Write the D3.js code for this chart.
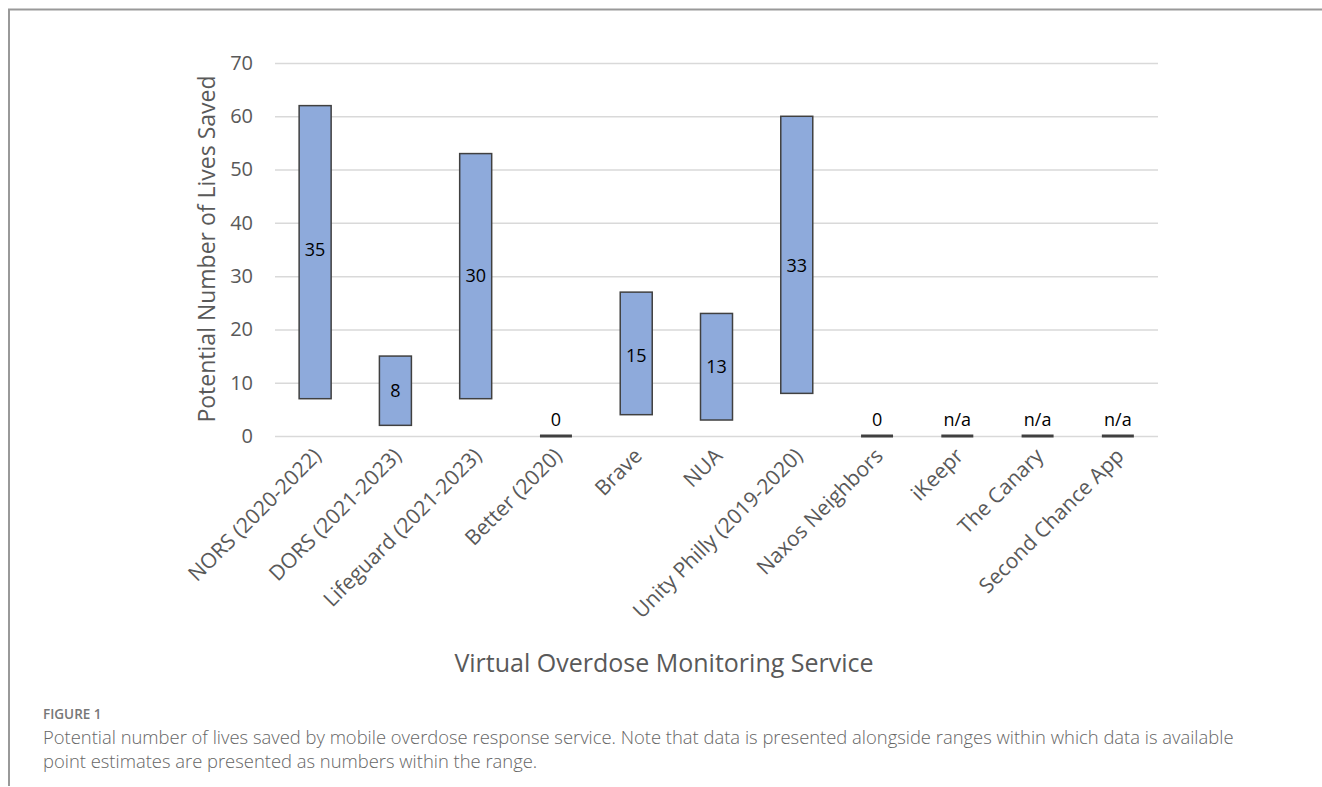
<!DOCTYPE html>
<html>
<head>
<meta charset="utf-8">
<script src="https://cdn.jsdelivr.net/npm/d3@7"></script>
<style>
  body { margin: 0; background: #fff; }
  svg { display: block; font-family: "Open Sans", sans-serif; }
</style>
</head>
<body>
<svg id="chart" width="1322" height="787"></svg>
<script>
// services on the x axis
const services = [
  'NORS (2020-2022)', 'DORS (2021-2023)', 'Lifeguard (2021-2023)', 'Better (2020)',
  'Brave', 'NUA', 'Unity Philly (2019-2020)', 'Naxos Neighbors',
  'iKeepr', 'The Canary', 'Second Chance App'
];
// range low / high and point estimate (null = n/a)
const lowValues = [7, 2, 7, 0, 4, 3, 8, 0, 0, 0, 0];
const highValues = [62, 15, 53, 0, 27, 23, 60, 0, 0, 0, 0];
const pointLabels = ['35', '8', '30', '0', '15', '13', '33', '0', 'n/a', 'n/a', 'n/a'];
const pointValues = [35, 8.5, 30, 0, 15, 13, 32, 0, null, null, null];
const yTicks = [0, 10, 20, 30, 40, 50, 60, 70];

const svg = d3.select('#chart');
const plotLeft = 275, plotRight = 1158, plotTop = 63, plotBottom = 436;

const x = d3.scaleBand().domain(services).range([plotLeft, plotRight]);
const y = d3.scaleLinear().domain([0, 70]).range([plotBottom, plotTop]);

// outer frame (top + left)
svg.append('path')
  .attr('d', 'M9,786 L9,9.5 L1322,9.5')
  .attr('fill', 'none')
  .attr('stroke', '#999')
  .attr('stroke-width', 2);

// gridlines + y labels
const yAxis = d3.axisLeft(y).tickValues(yTicks).tickSize(-(plotRight - plotLeft)).tickPadding(22);
const gy = svg.append('g').attr('transform', `translate(${plotLeft},0)`).call(yAxis);
gy.select('.domain').remove();
gy.selectAll('.tick line').attr('stroke', '#d9d9d9').attr('stroke-width', 1.5);
gy.selectAll('.tick text')
  .attr('fill', '#595959')
  .style('font-size', '20px')
  .style('font-family', '"Open Sans", sans-serif');

// floating range bars
const barW = 32;
const data = services.map((s, i) => ({
  name: s, lo: lowValues[i], hi: highValues[i], label: pointLabels[i], pv: pointValues[i]
}));

svg.append('g').selectAll('rect')
  .data(data.filter(d => d.hi > d.lo))
  .enter()
  .append('rect')
  .attr('x', d => x(d.name) + x.bandwidth() / 2 - barW / 2)
  .attr('y', d => y(d.hi))
  .attr('width', barW)
  .attr('height', d => y(d.lo) - y(d.hi))
  .attr('fill', '#8eaadb')
  .attr('stroke', '#404040')
  .attr('stroke-width', 1.5);

// zero / n/a entries drawn as flat dark bars
svg.append('g').selectAll('line')
  .data(data.filter(d => d.hi <= d.lo))
  .enter()
  .append('line')
  .attr('x1', d => x(d.name) + x.bandwidth() / 2 - barW / 2)
  .attr('x2', d => x(d.name) + x.bandwidth() / 2 + barW / 2)
  .attr('y1', y(0))
  .attr('y2', y(0))
  .attr('stroke', '#404040')
  .attr('stroke-width', 3);

// point estimate labels
svg.append('g').selectAll('text')
  .data(data)
  .enter()
  .append('text')
  .attr('x', d => x(d.name) + x.bandwidth() / 2)
  .attr('y', d => d.hi > d.lo ? y(d.pv) : y(0) - 10)
  .attr('dy', d => d.hi > d.lo ? '0.35em' : '0')
  .attr('text-anchor', 'middle')
  .attr('fill', '#000')
  .style('font-size', '18px')
  .text(d => d.label);

// rotated category labels
svg.append('g').selectAll('text')
  .data(services)
  .enter()
  .append('text')
  .attr('transform', d => `translate(${x(d) + x.bandwidth() / 2 + 2},${plotBottom + 16}) rotate(-45)`)
  .attr('text-anchor', 'end')
  .attr('dy', '0.35em')
  .attr('fill', '#595959')
  .style('font-size', '21px')
  .text(d => d);

// axis titles
svg.append('text')
  .attr('transform', `translate(215,249) rotate(-90)`)
  .attr('text-anchor', 'middle')
  .attr('fill', '#595959')
  .style('font-size', '23px')
  .text('Potential Number of Lives Saved');

svg.append('text')
  .attr('x', 664)
  .attr('y', 672)
  .attr('text-anchor', 'middle')
  .attr('fill', '#595959')
  .style('font-size', '25px')
  .text('Virtual Overdose Monitoring Service');

// caption
svg.append('text')
  .attr('x', 43).attr('y', 719)
  .attr('fill', '#777')
  .style('font-size', '13.5px')
  .style('font-weight', 600)
  .text('FIGURE 1');

const caption = [
  'Potential number of lives saved by mobile overdose response service. Note that data is presented alongside ranges within which data is available',
  'point estimates are presented as numbers within the range.'
];
svg.append('g').selectAll('text')
  .data(caption)
  .enter()
  .append('text')
  .attr('x', 43)
  .attr('y', (d, i) => 744 + i * 24)
  .attr('fill', '#666')
  .style('font-size', '18.4px')
  .style('font-weight', 300)
  .text(d => d);
</script>
</body>
</html>
